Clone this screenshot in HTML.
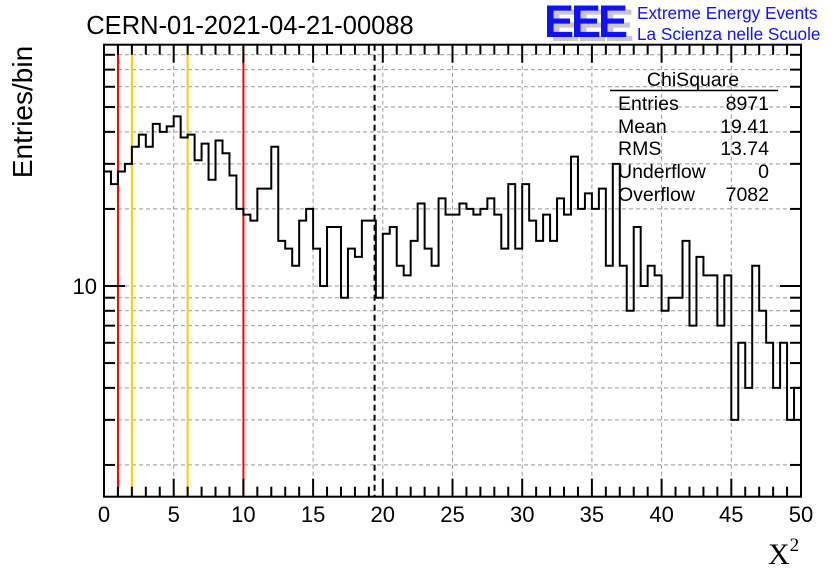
<!DOCTYPE html>
<html><head><meta charset="utf-8"><style>
html,body{margin:0;padding:0;background:#fff;}
svg{display:block;font-family:"Liberation Sans",sans-serif;}
</style></head><body>
<svg id="chart" width="836" height="572" viewBox="0 0 836 572">
<rect x="0" y="0" width="836" height="572" fill="#fff"/>
<text x="250" y="34" font-size="25.5" text-anchor="middle">CERN-01-2021-04-21-00088</text>
<g>
<text x="550" y="41" font-size="45" font-weight="bold" fill="#c8c8c8" letter-spacing="-3">EEE</text>
<text x="544" y="37" font-size="45" font-weight="bold" fill="#1010ff" letter-spacing="-3">EEE</text>
<text x="637" y="19" font-size="17.2" fill="#1010ff">Extreme Energy Events</text>
<text x="637" y="40" font-size="17.2" fill="#1010ff">La Scienza nelle Scuole</text>
</g>
<g id="grid"></g>
<g id="vlines"></g>
<path id="hist" fill="none" stroke="#000" stroke-width="2"/>
<g id="axes"></g>
<text x="32" y="112" font-size="28" text-anchor="middle" transform="rotate(-90 32 112)">Entries/bin</text>
<text x="768" y="564" font-size="30" font-family="Liberation Serif,serif">X<tspan font-size="19" dy="-13">2</tspan></text>
<g>
<text x="693" y="86" font-size="19.5" text-anchor="middle">ChiSquare</text>
<line x1="610" y1="90.5" x2="778" y2="90.5" stroke="#000" stroke-width="1.5"/>
<text x="618" y="110" font-size="19.5">Entries</text><text x="769" y="110" font-size="19.5" text-anchor="end">8971</text>
<text x="618" y="133" font-size="19.5">Mean</text><text x="769" y="133" font-size="19.5" text-anchor="end">19.41</text>
<text x="618" y="155" font-size="19.5">RMS</text><text x="769" y="155" font-size="19.5" text-anchor="end">13.74</text>
<text x="618" y="178" font-size="19.5">Underflow</text><text x="769" y="178" font-size="19.5" text-anchor="end">0</text>
<text x="618" y="201" font-size="19.5">Overflow</text><text x="769" y="201" font-size="19.5" text-anchor="end">7082</text>
</g>
</svg>
<script>
const binCounts=[28,25,28,30,35,39,35,43,40,42,46,38,39,31,36,26,37,33,27,20,
19,18,24,24,35,15,14,12,18,20,14,10,17,17,9,14,13,18,18,9,
16,17,12,11,15,21,14,12,22,19,19,21,20,19,20,22,19,14,25,14,
25,18,15,19,15,22,19,32,20,23,20,24,12,30,12,8,17,10,12,11,
8,9,9,15,7,13,11,11,7,11,3,6,4,12,8,6,4,6,3,4];
const xTicks=[0,5,10,15,20,25,30,35,40,45,50];
const yGridVals=[2,3,4,5,6,7,8,9,10,20,30,40,50,60,70,80];
const cutLines=[{v:1,c:"#ff0000"},{v:2,c:"#ffcc00"},{v:6,c:"#ffcc00"},{v:10,c:"#ff0000"}];
const meanValue=19.41;
const xMin=0,xMax=50,yMin=1.503,yMax=87.6;
const L=104,R=801,T=44.7,B=496.7;
const NS="http://www.w3.org/2000/svg";
function X(v){return L+(v-xMin)/(xMax-xMin)*(R-L);}
function Y(v){return B-(Math.log10(v)-Math.log10(yMin))/(Math.log10(yMax)-Math.log10(yMin))*(B-T);}
function mk(tag,attrs,parent){const e=document.createElementNS(NS,tag);for(const k in attrs)e.setAttribute(k,attrs[k]);parent.appendChild(e);return e;}
const grid=document.getElementById('grid'),axes=document.getElementById('axes'),vl=document.getElementById('vlines');
xTicks.slice(1,-1).forEach(t=>{const g=mk('line',{x1:X(t),x2:X(t),y1:T,y2:B,stroke:'#999','stroke-dasharray':'4 3','stroke-width':1},grid);

});
yGridVals.forEach(v=>{const g=mk('line',{x1:L,x2:R,y1:Y(v),y2:Y(v),stroke:'#999','stroke-dasharray':'4 3','stroke-width':1},grid);

});
cutLines.forEach(c=>{const l=mk('line',{x1:X(c.v),x2:X(c.v),y1:T,y2:B,stroke:c.c,'stroke-width':2},vl);

});
const ml=mk('line',{x1:X(meanValue),x2:X(meanValue),y1:T,y2:B,stroke:'#000','stroke-width':2,'stroke-dasharray':'6 4'},vl);


const bw=(xMax-xMin)/binCounts.length;
let d='M'+X(0)+' '+Y(binCounts[0]);
binCounts.forEach((c,i)=>{const y=Math.max(T,Math.min(B,Y(c)));d+=' L'+X(i*bw)+' '+y+' L'+X((i+1)*bw)+' '+y;});
document.getElementById('hist').setAttribute('d',d);
const fr=mk('rect',{x:L,y:T,width:R-L,height:B-T,fill:'none',stroke:'#000','stroke-width':2},axes);


for(let v=0;v<=50;v+=1){const maj=v%5===0;const h=maj?18:10;
mk('line',{x1:X(v),x2:X(v),y1:B,y2:B-h,stroke:'#000','stroke-width':2},axes);
mk('line',{x1:X(v),x2:X(v),y1:T,y2:T+h,stroke:'#000','stroke-width':2},axes);}
xTicks.forEach(t=>{const tx=mk('text',{x:X(t),y:522,'font-size':22,'text-anchor':'middle'},axes);tx.textContent=t;

});
yGridVals.forEach(v=>{const h=v===10?21:11;
mk('line',{x1:L,x2:L+h,y1:Y(v),y2:Y(v),stroke:'#000','stroke-width':2},axes);
mk('line',{x1:R,x2:R-h,y1:Y(v),y2:Y(v),stroke:'#000','stroke-width':2},axes);});
const yl=mk('text',{x:97,y:Y(10)+8,'font-size':22,'text-anchor':'end'},axes);yl.textContent='10';


</script>
</body></html>
